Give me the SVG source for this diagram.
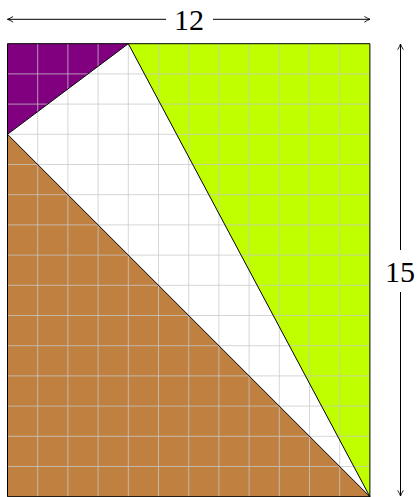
<svg xmlns="http://www.w3.org/2000/svg" width="417" height="497" viewBox="0 0 417 497">
<defs>
<style>
.edge{stroke:#000;stroke-width:1;fill:none;stroke-linejoin:round}
.grid line{stroke:#c8c8c8;stroke-width:1;stroke-opacity:0.75}
.dim{stroke:#000;stroke-width:1;fill:none}
.lbl{font-family:"Liberation Serif","DejaVu Serif",serif;font-size:30px;fill:#000;text-anchor:middle}
</style>
<marker id="arr" viewBox="0 0 10 10" refX="9" refY="5" markerWidth="8" markerHeight="8" orient="auto-start-reverse" markerUnits="userSpaceOnUse">
<path d="M2,1.5 Q6,4 9,5 Q6,6 2,8.5" fill="none" stroke="#000" stroke-width="1.1"/>
</marker>
</defs>
<rect width="417" height="497" fill="#fff"/>
<g id="purple"><polygon points="7.5,43.7 128.3,43.7 7.5,134.3" fill="#800080"/></g>
<g id="green"><polygon points="128.3,43.7 369.9,43.7 369.9,496.7" fill="#bfff00"/></g>
<g id="brown"><polygon points="7.5,134.3 369.9,496.7 7.5,496.7" fill="#bf8040"/></g>
<g id="white"><polygon points="128.3,43.7 369.9,496.7 7.5,134.3" fill="#fff"/></g>
<g class="grid" id="grid">
<line x1="37.7" y1="43.7" x2="37.7" y2="497"/>
<line x1="67.9" y1="43.7" x2="67.9" y2="497"/>
<line x1="98.1" y1="43.7" x2="98.1" y2="497"/>
<line x1="128.3" y1="43.7" x2="128.3" y2="497"/>
<line x1="158.5" y1="43.7" x2="158.5" y2="497"/>
<line x1="188.7" y1="43.7" x2="188.7" y2="497"/>
<line x1="218.9" y1="43.7" x2="218.9" y2="497"/>
<line x1="249.1" y1="43.7" x2="249.1" y2="497"/>
<line x1="279.3" y1="43.7" x2="279.3" y2="497"/>
<line x1="309.5" y1="43.7" x2="309.5" y2="497"/>
<line x1="339.7" y1="43.7" x2="339.7" y2="497"/>
<line x1="7.5" y1="73.9" x2="369.9" y2="73.9"/>
<line x1="7.5" y1="104.1" x2="369.9" y2="104.1"/>
<line x1="7.5" y1="134.3" x2="369.9" y2="134.3"/>
<line x1="7.5" y1="164.5" x2="369.9" y2="164.5"/>
<line x1="7.5" y1="194.7" x2="369.9" y2="194.7"/>
<line x1="7.5" y1="224.9" x2="369.9" y2="224.9"/>
<line x1="7.5" y1="255.1" x2="369.9" y2="255.1"/>
<line x1="7.5" y1="285.3" x2="369.9" y2="285.3"/>
<line x1="7.5" y1="315.5" x2="369.9" y2="315.5"/>
<line x1="7.5" y1="345.7" x2="369.9" y2="345.7"/>
<line x1="7.5" y1="375.9" x2="369.9" y2="375.9"/>
<line x1="7.5" y1="406.1" x2="369.9" y2="406.1"/>
<line x1="7.5" y1="436.3" x2="369.9" y2="436.3"/>
<line x1="7.5" y1="466.5" x2="369.9" y2="466.5"/>
</g>
<g id="edges">
<rect x="7.5" y="43.7" width="362.4" height="453" class="edge"/>
<line x1="128.3" y1="43.7" x2="7.5" y2="134.3" class="edge"/>
<line x1="128.3" y1="43.7" x2="369.9" y2="496.7" class="edge"/>
<line x1="7.5" y1="134.3" x2="369.9" y2="496.7" class="edge"/>
</g>
<g id="dimensions">
<line x1="166" y1="19.3" x2="7.5" y2="19.3" class="dim" marker-end="url(#arr)"/>
<line x1="213" y1="19.3" x2="370" y2="19.3" class="dim" marker-end="url(#arr)"/>
<line x1="400.5" y1="250" x2="400.5" y2="44" class="dim" marker-end="url(#arr)"/>
<line x1="400.5" y1="292" x2="400.5" y2="496" class="dim" marker-end="url(#arr)"/>
</g>
<g id="labels">
<text x="189" y="30" class="lbl">12</text>
<text x="400" y="282" class="lbl">15</text>
</g>
</svg>
